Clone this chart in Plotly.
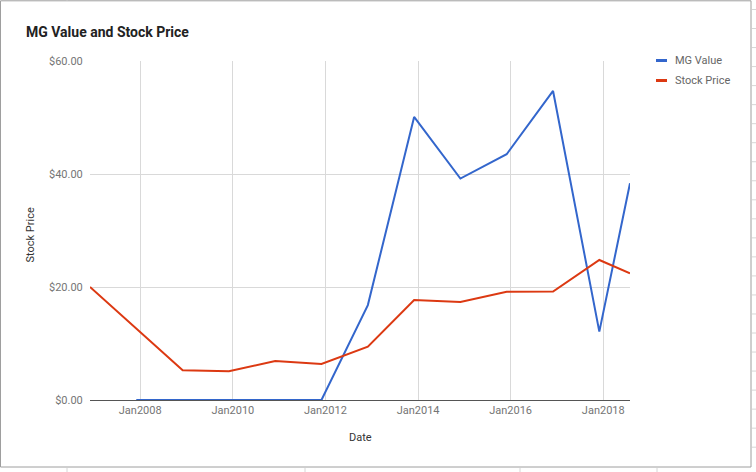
import plotly.graph_objects as go

# ---- data ----
dates = ["2006-12-01", "2007-12-01", "2008-12-01", "2009-12-01", "2010-12-01",
         "2011-12-01", "2012-12-01", "2013-12-01", "2014-12-01", "2015-12-01",
         "2016-12-01", "2017-12-01", "2018-07-31"]
mg_value = [None, 0, 0, 0, 0, 0, 16.8, 50.1, 39.2, 43.5, 54.7, 12.1, 38.35]
stock_price = [20.0, 12.55, 5.25, 5.08, 6.9, 6.37, 9.43, 17.7, 17.35, 19.17, 19.2, 24.78, 22.42]
x_tick_vals = ["2008-01-01", "2010-01-01", "2012-01-01", "2014-01-01", "2016-01-01", "2018-01-01"]
y_tick_vals = [0, 20, 40, 60]
y_tick_text = [f"${v:.2f}" for v in y_tick_vals]
series_names = ["MG Value", "Stock Price"]
series_colors = ["#3366cc", "#dc3912"]

W, H = 756, 472
L, R, T, B = 90, 630, 61, 400  # plot area in pixels


def px(x):
    return (x - L) / (R - L)


def py(y):
    return (B - y) / (B - T)


fig = go.Figure()
for name, vals, col in zip(series_names, [mg_value, stock_price], series_colors):
    fig.add_trace(go.Scatter(x=dates, y=vals, mode="lines", name=name,
                             line=dict(color=col, width=2), connectgaps=False,
                             showlegend=False))

shapes = []
# outer frame
shapes.append(dict(type="rect", xref="paper", yref="paper",
                   x0=px(0.5), x1=px(751), y0=py(0.8), y1=py(467),
                   line=dict(color="#9e9e9e", width=1)))
# outside little grid ticks (spreadsheet cells)
for xx in [67, 305, 520, 657]:
    shapes.append(dict(type="line", xref="paper", yref="paper",
                       x0=px(xx), x1=px(xx), y0=py(468), y1=py(472),
                       line=dict(color="#d6d6d6", width=1)))
shapes.append(dict(type="line", xref="paper", yref="paper",
                   x0=px(67), x1=px(67), y0=py(0), y1=py(0.5),
                   line=dict(color="#d6d6d6", width=1)))
k = 0
while 9.5 + 19.03 * k < 466:
    yy = 9.5 + 19.03 * k
    shapes.append(dict(type="line", xref="paper", yref="paper",
                       x0=px(752), x1=px(756), y0=py(yy), y1=py(yy),
                       line=dict(color="#d6d6d6", width=1)))
    k += 1

annotations = []
# title
annotations.append(dict(text="<b>MG Value and Stock Price</b>", xref="paper", yref="paper",
                        x=px(24), y=py(32), xanchor="left", yanchor="middle",
                        showarrow=False, font=dict(family="Roboto", size=14, color="#222222")))
# axis titles
annotations.append(dict(text="Date", xref="paper", yref="paper",
                        x=px(360), y=py(437), xanchor="center", yanchor="middle",
                        showarrow=False, font=dict(family="Roboto", size=11, color="#333333")))
annotations.append(dict(text="Stock Price", xref="paper", yref="paper",
                        x=px(29.5), y=py(235), xanchor="center", yanchor="middle", textangle=-90,
                        showarrow=False, font=dict(family="Roboto", size=11, color="#333333")))
# legend (manual)
for i, (name, col) in enumerate(zip(series_names, series_colors)):
    yc = 60.5 + 20 * i
    shapes.append(dict(type="rect", xref="paper", yref="paper",
                       x0=px(656), x1=px(667), y0=py(yc - 1.5), y1=py(yc + 1.5),
                       fillcolor=col, line=dict(width=0)))
    annotations.append(dict(text=name, xref="paper", yref="paper",
                            x=px(673), y=py(yc), xanchor="left", yanchor="middle",
                            showarrow=False, font=dict(family="Roboto", size=11, color="#666666")))

fig.update_layout(
    width=W, height=H,
    margin=dict(l=L, r=W - R, t=T, b=H - B, pad=0),
    paper_bgcolor="white", plot_bgcolor="white",
    font=dict(family="Roboto", size=11, color="#757575"),
    shapes=shapes, annotations=annotations,
    showlegend=False,
)
fig.update_xaxes(
    type="date", range=[dates[0], dates[-1]],
    tickvals=x_tick_vals, tickformat="%b%Y",
    showgrid=True, gridcolor="#d9d9d9", gridwidth=1,
    showline=True, linecolor="#555555", linewidth=1,
    ticks="", zeroline=False, layer="below traces",
    tickfont=dict(family="Roboto", size=11, color="#757575"),
)
fig.update_yaxes(
    range=[0, 60], tickvals=y_tick_vals, ticktext=y_tick_text,
    showgrid=True, gridcolor="#d9d9d9", gridwidth=1,
    showline=False, zeroline=False, ticks="outside", ticklen=4, tickcolor="rgba(0,0,0,0)",
    tickfont=dict(family="Roboto", size=11, color="#757575"),
)

fig.write_html("out.html", config={"displayModeBar": False},
               post_script="document.body.style.margin='0';")
